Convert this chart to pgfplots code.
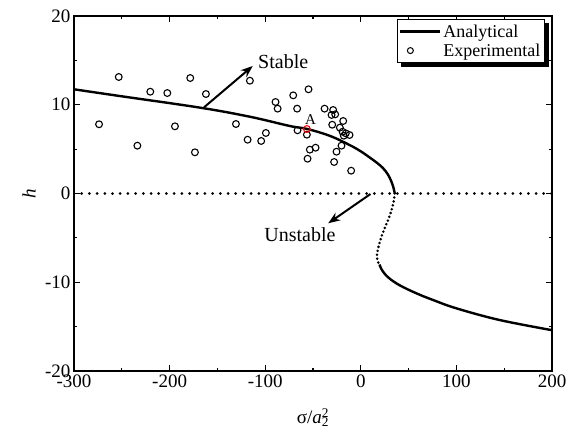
\documentclass[border=0pt]{standalone}
\usepackage{fontspec}
\setmainfont{Liberation Serif}
\usepackage{pgfplots}
\pgfplotsset{compat=1.18}
\usetikzlibrary{arrows.meta}

\begin{document}
\begin{tikzpicture}[font=\fontsize{19}{22}\selectfont]
\begin{axis}[
  at={(0,0)}, anchor=south west,
  scale only axis, width=478pt, height=355pt,
  xmin=-300, xmax=200, ymin=-20, ymax=20,
  xtick={-300,-200,...,200}, ytick={-20,-10,...,20},
  minor x tick num=1, minor y tick num=1,
  tick align=inside, xtick pos=both, ytick pos=both,
  xticklabel pos=lower, yticklabel pos=left,
  major tick length=6pt, minor tick length=3.5pt,
  axis line style={line width=1.2pt},
  every tick/.style={black, line width=1.1pt},
  /pgf/number format/assume math mode=true,
  ticklabel style={font=\fontsize{19}{22}\selectfont},
  xlabel={σ/\textit{a}\rlap{\textsuperscript{2}}\textsubscript{2}},
  ylabel={\textit{h}},
  xlabel style={at={(axis description cs:0.5,-0.149)}, anchor=base},
  ylabel style={at={(axis description cs:-0.094,0.5)}, anchor=center},
  legend style={name=lgd, at={(0.985,0.991)}, anchor=north east, draw=black,
    line width=0.8pt, fill=white, font=\fontsize{18}{18}\selectfont,
    inner xsep=2pt, inner ysep=3pt, row sep=1pt},
  legend cell align=left,
]
% upper stable branch
\addplot[line width=2.4pt, smooth, tension=0.6,
  legend image code/.code={\draw[line width=2.2pt] (0pt,0pt) -- (40pt,0pt);}]
  coordinates {(-300,11.74) (-250,10.95) (-168,9.67) (-116,8.65) (-74,7.6)
    (-56,7.27) (-32,6.48) (-11.5,5.45) (0,4.75) (9.4,4.05) (17,3.45)
    (23.3,2.85) (28.3,2.15) (31.8,1.4) (34.2,0.65) (35.3,0.1) (35.5,0)};
\addlegendentry{Analytical}
% experimental data
\addplot[only marks, mark=o, mark size=3.4pt, mark options={line width=1.1pt},
  legend image code/.code={\draw[line width=1pt] (10pt,0pt) circle (3pt);}]
  coordinates {(-273.8,7.80) (-253.2,13.13) (-233.7,5.39) (-220.2,11.47)
    (-202.4,11.32) (-194.4,7.57) (-178.4,13.01) (-173.5,4.64) (-162.0,11.21)
    (-116.0,12.71) (-130.6,7.83) (-118.4,6.06) (-104.2,5.92) (-99.3,6.82)
    (-89.2,10.31) (-87.0,9.56) (-70.7,11.06) (-54.7,11.74) (-66.6,9.56)
    (-66.2,7.12) (-56.4,6.63) (-53.3,4.94) (-47.3,5.16) (-55.7,3.92)
    (-37.9,9.56) (-28.9,9.41) (-30.6,8.85) (-26.8,8.92) (-18.4,8.17)
    (-29.9,7.75) (-21.9,7.42) (-19.1,6.96) (-15.7,6.78) (-17.8,6.51)
    (-11.8,6.59) (-20.2,5.39) (-25.4,4.71) (-27.9,3.55) (-10.1,2.57)};
\addlegendentry{Experimental}
% unstable middle branch
\addplot[forget plot, line width=2.8pt, line cap=round,
  dash pattern=on 0pt off 4pt, smooth, tension=0.6]
  coordinates {(35.5,0) (34.6,-0.8) (31.8,-2.0) (28.5,-3.0) (24.6,-4.0)
    (21.6,-4.87) (19,-5.8) (17.4,-6.56) (16.9,-7.2) (18,-7.7) (19.5,-8.0)};
% lower stable branch
\addplot[forget plot, line width=2.4pt, smooth, tension=0.6]
  coordinates {(19.5,-8.0) (21.5,-8.5) (25,-9.05) (30.3,-9.6) (40.8,-10.35)
    (58.2,-11.25) (75.6,-12.0) (100,-12.94) (145,-14.25) (200,-15.4)};
% zero line
\addplot[forget plot, line width=3pt, line cap=round,
  dash pattern=on 0pt off 7.7pt]
  coordinates {(-300,0) (200,0)};
% point A
\addplot[forget plot, only marks, mark=o, red, mark size=3.4pt,
  mark options={line width=1.1pt}]
  coordinates {(-56.4,7.27)};
\node[font=\fontsize{15}{15}\selectfont] at (axis cs:-52.6,8.36) {A};
% annotations
\draw[line width=2pt, -{Stealth[length=12pt,width=9pt]}]
  (axis cs:-164,9.71) -- (axis cs:-113,14.37);
\node[font=\fontsize{20}{20}\selectfont, anchor=west] at (axis cs:-111,14.82) {Stable};
\draw[line width=2pt, -{Stealth[length=12pt,width=9pt]}]
  (axis cs:10.1,-0.06) -- (axis cs:-34.1,-3.36);
\node[font=\fontsize{20}{20}\selectfont] at (axis cs:-63.7,-4.68) {Unstable};
\end{axis}
% legend shadow
\fill[black] ([yshift=-4pt]lgd.north east) rectangle ([xshift=4pt,yshift=-4pt]lgd.south east);
\fill[black] ([xshift=4pt]lgd.south west) rectangle ([xshift=4pt,yshift=-4pt]lgd.south east);
\pgfresetboundingbox
\path (-74pt,-68pt) rectangle (503pt,371pt);
\end{tikzpicture}
\end{document}
